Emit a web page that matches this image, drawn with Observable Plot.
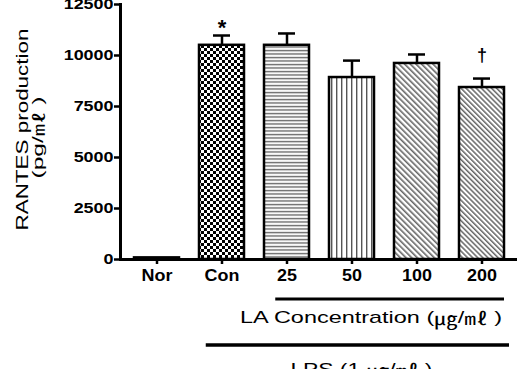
<!DOCTYPE html>
<html>
<head>
<meta charset="utf-8">
<script src="https://cdn.jsdelivr.net/npm/d3@7"></script>
<script src="https://cdn.jsdelivr.net/npm/@observablehq/plot@0.6"></script>
<style>
  html, body { margin: 0; padding: 0; background: white; }
  svg { display: block; }
</style>
</head>
<body>
<script>
const cats = ["Nor", "Con", "25", "50", "100", "200"];
const means = [80, 10500, 10500, 8920, 9610, 8430];
const errs = [0, 480, 580, 830, 440, 440];
const sigMarks = ["", "*", "", "", "", "†"];
const yTicks = [0, 2500, 5000, 7500, 10000, 12500];
const fills = ["white", "url(#pCon)", "url(#pH)", "url(#pV)", "url(#pD1)", "url(#pD2)"];
const yLabel1 = "RANTES production";
const yLabel2 = "(pg/㎖ )";
const laLabel = "LA Concentration (㎍/㎖ )";
const lpsLabel = "LPS (1 ㎍/㎖ )";

const data = cats.map((c, i) => ({cat: c, value: means[i], err: errs[i], top: means[i] + errs[i], sig: sigMarks[i]}));
const FONT = "'Liberation Sans', Arial, 'Noto Sans CJK KR', sans-serif";
const CJK = "'Noto Sans CJK KR', 'Noto Sans CJK SC', sans-serif";

const plot = Plot.plot({
  width: 524,
  height: 369,
  marginLeft: 120,
  marginRight: 7,
  marginTop: 4,
  marginBottom: 110,
  style: {fontFamily: FONT, background: "white", color: "black"},
  x: {domain: cats, paddingInner: 0.31, paddingOuter: 0.19, label: null},
  y: {domain: [0, 12500], label: null},
  color: {domain: cats, range: fills},
  marks: [
    Plot.axisY({ticks: yTicks, tickFormat: d => String(d), tickSize: 6, tickPadding: 1, fontSize: 14, fontWeight: "bold", strokeWidth: 2.5, label: null}),
    Plot.axisX({tickSize: 5, tickPadding: 5, fontSize: 16, fontWeight: "bold", strokeWidth: 2.5, label: null}),
    Plot.ruleX(data.filter(d => d.err > 0), {x: "cat", y1: "value", y2: "top", strokeWidth: 2.5}),
    Plot.tickY(data.filter(d => d.err > 0), {x: "cat", y: "top", insetLeft: 14, insetRight: 14, strokeWidth: 2.5}),
    Plot.barY(data, {x: "cat", y: "value", fill: "cat", stroke: "black", strokeWidth: 2.5}),
    Plot.text(data.filter(d => d.sig === "*"), {x: "cat", y: "top", text: "sig", dy: -8, fontSize: 22, fontWeight: "bold"}),
    Plot.text(data.filter(d => d.sig === "†"), {x: "cat", y: "top", text: "sig", dy: -23, fontSize: 18, fontWeight: "bold"}),
    Plot.ruleY([0], {strokeWidth: 3}),
    Plot.frame({anchor: "left", strokeWidth: 3})
  ]
});
document.body.append(plot);

const svg = d3.select(plot);
const defs = svg.insert("defs", ":first-child");
function pat(id, w, h, transform, draw) {
  const p = defs.append("pattern").attr("id", id).attr("patternUnits", "userSpaceOnUse")
    .attr("width", w).attr("height", h);
  if (transform) p.attr("patternTransform", transform);
  p.append("rect").attr("width", w).attr("height", h).attr("fill", "white");
  draw(p);
}
pat("pCon", 6, 6, null, p => {
  p.append("rect").attr("x", 0).attr("y", 0).attr("width", 3).attr("height", 3).attr("fill", "black");
  p.append("rect").attr("x", 3).attr("y", 3).attr("width", 3).attr("height", 3).attr("fill", "black");
});
pat("pH", 4, 3.5, null, p => p.append("rect").attr("y", 0.8).attr("width", 4).attr("height", 1.4).attr("fill", "#666"));
pat("pV", 5, 5, null, p => p.append("rect").attr("x", 1).attr("width", 1.4).attr("height", 5).attr("fill", "#555"));
pat("pD1", 4, 4, "rotate(-45)", p => p.append("rect").attr("x", 0).attr("width", 1.6).attr("height", 4).attr("fill", "#666"));
pat("pD2", 3.6, 3.6, "rotate(-45)", p => p.append("rect").attr("x", 0).attr("width", 1.5).attr("height", 3.6).attr("fill", "#666"));

function stretch(sel, factor) {
  sel.each(function() {
    const L = this.getComputedTextLength();
    this.setAttribute("textLength", L * factor);
    this.setAttribute("lengthAdjust", "spacingAndGlyphs");
  });
}
stretch(svg.selectAll('g[aria-label="y-axis tick label"] text'), 1.28);
stretch(svg.selectAll('g[aria-label="x-axis tick label"] text'), 1.12);

// write text, routing the squared unit symbols through a CJK font
function fillText(t, str) {
  const parts = str.split(/([\u3380-\u33FF]+)/);
  for (const part of parts) {
    if (!part) continue;
    const sp = t.append("tspan").text(part);
    if (/[\u3380-\u33FF]/.test(part)) sp.attr("font-family", CJK);
  }
  return t;
}

const xs = plot.scale("x");
const ys = plot.scale("y");
const bw = xs.bandwidth;
const y0 = ys.apply(0);
const g = svg.append("g").attr("font-family", FONT).attr("fill", "black");

// Y axis label (two lines)
const cyl = (ys.apply(12500) + y0) / 2;
g.append("text").attr("transform", `translate(22,${cyl - 2}) rotate(-90)`)
  .attr("text-anchor", "middle").attr("dominant-baseline", "central")
  .attr("font-size", 17).attr("textLength", 202).attr("lengthAdjust", "spacingAndGlyphs").text(yLabel1);
fillText(g.append("text").attr("transform", `translate(37,${cyl + 6}) rotate(-90)`)
  .attr("text-anchor", "middle").attr("dominant-baseline", "central")
  .attr("font-size", 15).attr("textLength", 82).attr("lengthAdjust", "spacingAndGlyphs"), yLabel2);

// LA concentration bracket
const la1 = xs.apply("25") + bw * 0.25, la2 = xs.apply("200") + bw;
g.append("line").attr("x1", la1).attr("x2", la2).attr("y1", y0 + 40).attr("y2", y0 + 40)
  .attr("stroke", "black").attr("stroke-width", 3);
fillText(g.append("text").attr("x", la2 - 2).attr("y", y0 + 58).attr("text-anchor", "end")
  .attr("dominant-baseline", "central").attr("font-size", 17)
  .attr("textLength", 262).attr("lengthAdjust", "spacingAndGlyphs"), laLabel);

// LPS bracket
const lp1 = xs.apply("Con") + bw * 0.15, lp2 = xs.apply("200") + bw + 5;
g.append("line").attr("x1", lp1).attr("x2", lp2).attr("y1", y0 + 86).attr("y2", y0 + 86)
  .attr("stroke", "black").attr("stroke-width", 3.5);
fillText(g.append("text").attr("x", (lp1 + lp2) / 2 + 4).attr("y", y0 + 110).attr("text-anchor", "middle")
  .attr("dominant-baseline", "central").attr("font-size", 17)
  .attr("textLength", 142).attr("lengthAdjust", "spacingAndGlyphs"), lpsLabel);
</script>
</body>
</html>
